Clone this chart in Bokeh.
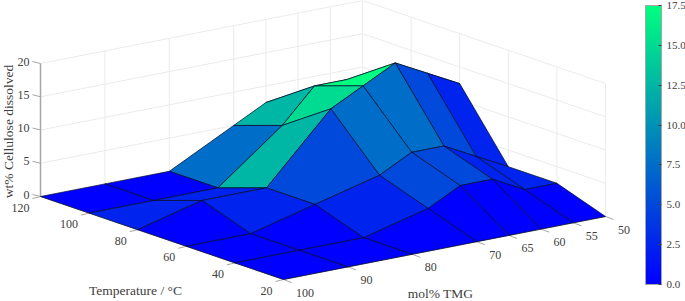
from bokeh.plotting import figure
from bokeh.models import Range1d, LinearColorMapper, ColorBar, FixedTicker, NumeralTickFormatter
from bokeh.embed import file_html
from bokeh.resources import INLINE

# --- data ---
temperatures = [120, 100, 80, 60, 40, 20]
tmg_mol = [100, 90, 80, 70, 65, 60, 55, 50]
cellulose_120 = [0, 0, 0, 5, 7.5, 7.5, 5, 2.5]
cellulose_100 = [0, 0, 0, 7.5, 12.5, 12.5, 10, 7.5]
cellulose_80 = [0, 2.5, 2.5, 12.5, 15, 17.5, 15, 12.5]
cellulose_60 = [0, 0, 2.5, 5, 7.5, 7.5, 5, 2.5]
cellulose_40 = [0, 0, 0, 2.5, 5, 5, 2.5, 2.5]
cellulose_20 = [0, 0, 0, 0, 0, 0, 0, 0]
surface = [cellulose_120, cellulose_100, cellulose_80, cellulose_60, cellulose_40, cellulose_20]
z_ticks = [0, 5, 10, 15, 20]
cbar_ticks = [0, 2.5, 5, 7.5, 10, 12.5, 15, 17.5]

# --- orthographic projection of the 3-D box onto the page ---
O = (40.0, 196.0)          # T=120, TMG=100, z=0
PER_T = (-2.43, -0.83)     # px per degree
PER_M = (-6.44, 1.26)      # px per mol%
PER_Z = 6.65               # px per wt%

def proj(t, m, z=0.0):
    dt, dm = t - 120, m - 100
    return (O[0] + PER_T[0] * dt + PER_M[0] * dm,
            O[1] + PER_T[1] * dt + PER_M[1] * dm - PER_Z * z)

W, H = 685, 301
p = figure(width=W, height=H, output_backend="svg", toolbar_location=None,
           x_range=Range1d(0, W), y_range=Range1d(H, 0),
           x_axis_type=None, y_axis_type=None,
           min_border=0, outline_line_color=None)
p.grid.visible = False
p.styles = {"position": "absolute", "left": "0px", "top": "0px"}

SERIF = "Liberation Serif"
TXT = "#404040"
GRID = "#ebebeb"
AXIS = "#a6a6a6"

def seg(a, b, color, width=1.0):
    p.line([a[0], b[0]], [a[1], b[1]], line_color=color, line_width=width)

Tb, Tf = temperatures[0], temperatures[-1]
Ml, Mr = tmg_mol[0], tmg_mol[-1]
zt = z_ticks[-1]

# back walls
for z in z_ticks[1:]:
    seg(proj(Tb, Ml, z), proj(Tb, Mr, z), GRID)
    seg(proj(Tb, Mr, z), proj(Tf, Mr, z), GRID)
for m in tmg_mol[1:]:
    seg(proj(Tb, m, 0), proj(Tb, m, zt), GRID)
for t in temperatures[1:]:
    seg(proj(t, Mr, 0), proj(t, Mr, zt), GRID)

# axis lines and ticks
seg(proj(Tb, Ml, 0), proj(Tb, Ml, zt), AXIS, 1.5)
seg(proj(Tb, Ml, 0), proj(Tf, Ml, 0), AXIS, 1.0)
seg(proj(Tf, Ml, 0), proj(Tf, Mr, 0), AXIS, 1.0)

def text(xs, ys, labels, size="12px", align="center", angle=0):
    p.text(xs, ys, text=labels, text_font={"value": SERIF}, text_font_size=size,
           text_color=TXT, text_align=align, text_baseline="middle", angle=angle)

for z in z_ticks:
    a = proj(Tb, Ml, z)
    seg(a, (a[0] - 8, a[1] - 2), AXIS)
for t in temperatures:
    a = proj(t, Ml, 0)
    seg(a, (a[0] - 8, a[1] + 2), AXIS)
for m in tmg_mol:
    a = proj(Tf, m, 0)
    seg(a, (a[0] + 8, a[1] + 3), AXIS)

# surface, painted back to front; MATLAB-style flat colour from a face's far corner
face_x, face_y, face_v = [], [], []
for i in range(len(temperatures) - 1):
    for j in range(len(tmg_mol) - 2, -1, -1):
        corners = [(i, j), (i, j + 1), (i + 1, j + 1), (i + 1, j)]
        pts = [proj(temperatures[a], tmg_mol[b], surface[a][b]) for a, b in corners]
        face_x.append([q[0] for q in pts])
        face_y.append([q[1] for q in pts])
        face_v.append(surface[i + 1][j + 1])

mapper = LinearColorMapper(
    palette=["#00%02x%02x" % (k, 255 - k // 2) for k in range(256)],
    low=cbar_ticks[0], high=cbar_ticks[-1])
p.patches(xs="xs", ys="ys", source={"xs": face_x, "ys": face_y, "v": face_v},
          fill_color={"field": "v", "transform": mapper},
          line_color="#000a28", line_alpha=0.7, line_width=1.0)

# tick labels
zx = [proj(Tb, Ml, z) for z in z_ticks]
text([q[0] - 11 for q in zx], [q[1] - 2 for q in zx], [str(z) for z in z_ticks], align="right")
tx = [proj(t, Ml, 0) for t in temperatures]
text([q[0] - 11 for q in tx], [q[1] + 11 for q in tx], [str(t) for t in temperatures], align="right")
mx = [proj(Tf, m, 0) for m in tmg_mol]
text([q[0] + 12.5 for q in mx], [q[1] + 13 for q in mx], [str(m) for m in tmg_mol], align="left")

# axis titles
text([8], [131], ["wt% Cellulose dissolved"], size="13.5px", angle=1.5708)
text([135], [290], ["Temperature / °C"], size="13.5px")
text([440], [293], ["mol% TMG"], size="13.5px")

cb = ColorBar(color_mapper=mapper, ticker=FixedTicker(ticks=cbar_ticks),
              formatter=NumeralTickFormatter(format="0.0"),
              width=16, height=279, location=(645, 17), padding=0,
              background_fill_alpha=0, border_line_color=None,
              bar_line_color=AXIS, bar_line_width=1,
              major_tick_line_color=TXT, major_tick_in=3, major_tick_out=0,
              minor_tick_line_color=None, label_standoff=5,
              major_label_text_font=SERIF, major_label_text_font_size="11px",
              major_label_text_color=TXT)
p.add_layout(cb)

open("out.html", "w").write(file_html(p, INLINE))
